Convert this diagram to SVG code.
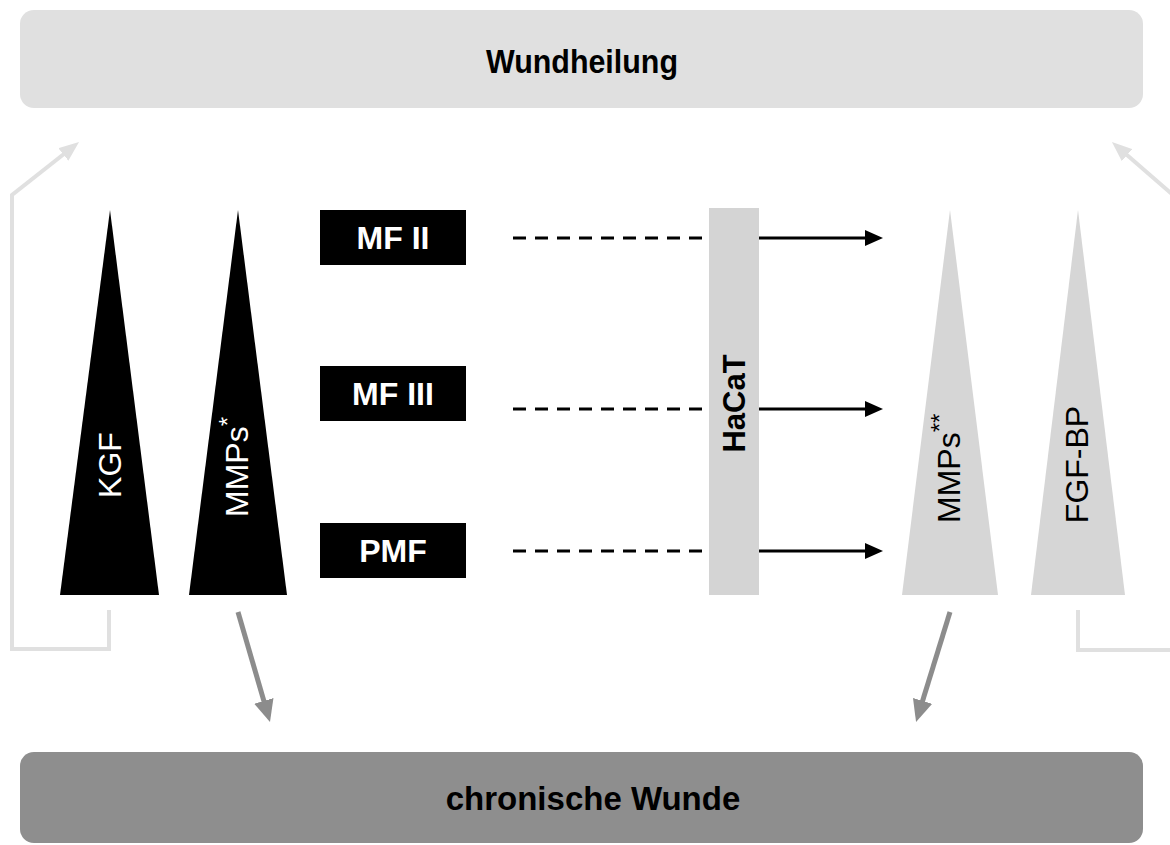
<svg xmlns="http://www.w3.org/2000/svg" width="1170" height="845" viewBox="0 0 1170 845">
<defs>
<style>
.lbl{font-family:"Liberation Sans",Arial,sans-serif}
.bold{font-weight:bold}
.tri-dark{fill:#000}
.tri-light{fill:#d6d6d6}
.box{fill:#000}
.dash{stroke:#000;stroke-width:3;stroke-dasharray:13 9;fill:none}
.solid{stroke:#000;stroke-width:3;fill:none}
.gray{stroke:#8c8c8c;stroke-width:5;fill:none}
.light{stroke:#e0e0e0;stroke-width:4;fill:none}
</style>
<marker id="ahBlack" markerUnits="userSpaceOnUse" markerWidth="18" markerHeight="16" refX="8" refY="8" orient="auto"><path d="M0,0 L18,8 L0,16 z" fill="#000"/></marker>
<marker id="ahGray" markerUnits="userSpaceOnUse" markerWidth="22" markerHeight="20" refX="12" refY="10" orient="auto"><path d="M0,0 L22,10 L0,20 z" fill="#8c8c8c"/></marker>
<marker id="ahLight" markerUnits="userSpaceOnUse" markerWidth="20" markerHeight="16" refX="10" refY="8" orient="auto"><path d="M0,0 L20,8 L0,16 z" fill="#e0e0e0"/></marker>
</defs>
<rect width="1170" height="845" fill="#fff"/>

<g id="wundheilung">
<rect x="20" y="10" width="1123" height="98" rx="14" fill="#e0e0e0"/>
<text class="lbl bold" x="582" y="73" font-size="33" text-anchor="middle" textLength="192" lengthAdjust="spacingAndGlyphs" fill="#000">Wundheilung</text>
</g>

<g id="chronische-wunde">
<rect x="20" y="752" width="1123" height="91" rx="14" fill="#8e8e8e"/>
<text class="lbl bold" x="593" y="810" font-size="33" text-anchor="middle" fill="#000">chronische Wunde</text>
</g>

<g id="kgf">
<polygon class="tri-dark" points="110,210 159,595 60,595"/>
<text class="lbl" transform="translate(121,465) rotate(-90)" font-size="32" text-anchor="middle" fill="#fff">KGF</text>
</g>

<g id="mmps1">
<polygon class="tri-dark" points="238,210 287,595 189,595"/>
<text class="lbl" transform="translate(248,517) rotate(-90)" font-size="32" fill="#fff">MMPs<tspan font-size="24" dy="-12">*</tspan></text>
</g>

<g id="mf2">
<rect class="box" x="320" y="210" width="146" height="55"/>
<text class="lbl bold" x="393" y="249" font-size="32" text-anchor="middle" fill="#fff">MF II</text>
</g>

<g id="mf3">
<rect class="box" x="320" y="366" width="146" height="55"/>
<text class="lbl bold" x="393" y="405" font-size="32" text-anchor="middle" fill="#fff">MF III</text>
</g>

<g id="pmf">
<rect class="box" x="320" y="523" width="146" height="55"/>
<text class="lbl bold" x="393" y="562" font-size="32" text-anchor="middle" fill="#fff">PMF</text>
</g>

<g id="hacat">
<rect x="709" y="208" width="50" height="387" fill="#d4d4d4"/>
<text class="lbl bold" transform="translate(745,403.5) rotate(-90)" font-size="31" text-anchor="middle" fill="#000">HaCaT</text>
</g>

<g id="mmps2">
<polygon class="tri-light" points="950,210 998,595 902,595"/>
<text class="lbl" transform="translate(960,523) rotate(-90)" font-size="32" fill="#000">MMPs<tspan font-size="24" dy="-12">**</tspan></text>
</g>

<g id="fgfbp">
<polygon class="tri-light" points="1078,210 1125,595 1031,595"/>
<text class="lbl" transform="translate(1088,464.5) rotate(-90)" font-size="32" text-anchor="middle" fill="#000">FGF-BP</text>
</g>

<g id="connectors">
<line class="dash" x1="513" y1="238" x2="709" y2="238"/>
<line class="dash" x1="513" y1="409" x2="709" y2="409"/>
<line class="dash" x1="513" y1="551" x2="709" y2="551"/>
<line class="solid" x1="759" y1="238" x2="873" y2="238" marker-end="url(#ahBlack)"/>
<line class="solid" x1="759" y1="409" x2="873" y2="409" marker-end="url(#ahBlack)"/>
<line class="solid" x1="759" y1="551" x2="873" y2="551" marker-end="url(#ahBlack)"/>
<line class="gray" x1="238" y1="612" x2="267.2" y2="712.4" marker-end="url(#ahGray)"/>
<line class="gray" x1="950" y1="612" x2="919" y2="712.4" marker-end="url(#ahGray)"/>
<polyline class="light" points="109,610 109,649 12,649 12,195 71.2,148.2" marker-end="url(#ahLight)"/>
<polyline class="light" points="1078,610 1078,650 1172,650"/>
<line class="light" x1="1172" y1="194" x2="1119.5" y2="148.6" marker-end="url(#ahLight)"/>
</g>
</svg>
